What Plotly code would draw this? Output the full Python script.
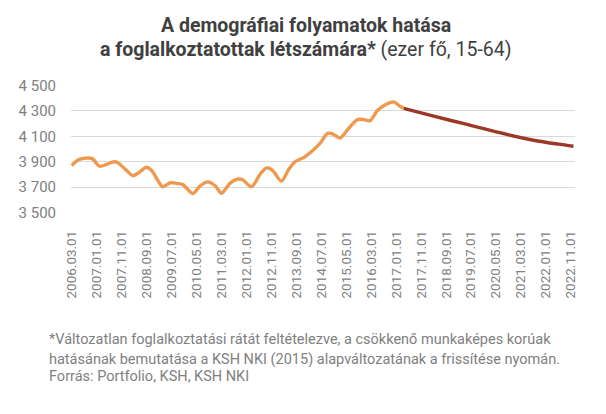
import plotly.graph_objects as go

# tényadatok (ezer fő) - leolvasva
actual_dates = [
    "2006-03-01", "2006-06-01", "2006-11-01", "2007-02-01", "2007-05-01", "2007-08-01",
    "2007-09-15", "2008-01-01", "2008-03-15", "2008-05-15", "2008-09-01", "2008-11-01",
    "2009-01-15", "2009-03-15", "2009-06-15", "2009-09-01", "2009-11-15", "2010-03-15",
    "2010-06-15", "2010-09-15", "2010-12-15", "2011-03-01", "2011-06-15", "2011-09-15",
    "2011-11-15", "2012-03-01", "2012-06-15", "2012-09-01", "2012-11-15", "2013-03-01",
    "2013-06-01", "2013-08-15", "2013-12-01", "2014-03-15", "2014-06-15", "2014-09-15",
    "2014-11-15", "2015-02-15", "2015-06-01", "2015-09-15", "2015-12-01", "2016-02-15",
    "2016-05-15", "2016-08-15", "2016-12-01", "2017-02-15", "2017-04-01",
]
actual_values = [
    3870, 3918, 3926, 3865, 3880, 3900,
    3892, 3830, 3790, 3809, 3856, 3830,
    3751, 3703, 3735, 3729, 3720, 3650,
    3711, 3742, 3711, 3652, 3732, 3764,
    3758, 3703, 3803, 3852, 3830, 3748,
    3843, 3900, 3934, 3986, 4044, 4123,
    4118, 4086, 4163, 4231, 4231, 4223,
    4302, 4346, 4370, 4336, 4320,
]

# előrejelzés
forecast_dates = ["2017-04-01", "2018-04-01", "2019-05-01", "2020-06-01",
                  "2021-08-01", "2022-06-01", "2022-12-01"]
forecast_values = [4320, 4258, 4195, 4130, 4069, 4038, 4022]

y_ticks = [3500, 3700, 3900, 4100, 4300, 4500]
y_labels = ["3 500", "3 700", "3 900", "4 100", "4 300", "4 500"]

title_lines = ["<b>A demográfiai folyamatok hatása</b>",
               "<b>a foglalkoztatottak létszámára*</b> (ezer fő, 15-64)"]
note_lines = ["*Változatlan foglalkoztatási rátát feltételezve, a csökkenő munkaképes korúak",
              "hatásának bemutatása a KSH NKI (2015) alapváltozatának a frissítése nyomán.",
              "Forrás: Portfolio, KSH, KSH NKI"]

fig = go.Figure()
fig.add_trace(go.Scatter(
    x=actual_dates, y=actual_values, mode="lines",
    line=dict(color="#EE994E", width=3.4, shape="spline", smoothing=0.8),
    hoverinfo="skip", showlegend=False,
))
fig.add_trace(go.Scatter(
    x=forecast_dates, y=forecast_values, mode="lines",
    line=dict(color="#9C3826", width=3.4, shape="spline", smoothing=0.8),
    hoverinfo="skip", showlegend=False,
))

annotations = []
for text, yy in zip(title_lines, [1.465, 1.277]):
    annotations.append(dict(
        text=text, xref="paper", yref="paper", x=0.466, y=yy,
        xanchor="center", yanchor="middle", showarrow=False,
        font=dict(size=19.5, color="#404040", family="Roboto")))
for text, yy in zip(note_lines, [-0.985, -1.145, -1.28]):
    annotations.append(dict(
        text=text, xref="paper", yref="paper", x=-0.0486, y=yy,
        xanchor="left", yanchor="middle", showarrow=False,
        font=dict(size=14.5, color="#808080", family="Roboto")))

fig.update_layout(
    width=606, height=414,
    # the page body adds an 8px offset, so the margins are shifted to compensate
    margin=dict(l=63, r=39, t=77, b=209),
    paper_bgcolor="white", plot_bgcolor="white",
    font=dict(family="Roboto", color="#808080"),
    xaxis=dict(
        type="date", range=["2006-02-20", "2022-12-20"],
        tick0="2006-03-01", dtick="M10", tickformat="%Y.%m.%d",
        tickangle=-90, tickfont=dict(size=13.5, color="#808080"),
        showgrid=False, showline=False, zeroline=False, ticks="",
        ticklabelstandoff=14, automargin=False,
    ),
    yaxis=dict(
        range=[3497, 4503], tickvals=y_ticks, ticktext=y_labels,
        tickfont=dict(size=15, color="#808080"),
        showgrid=True, gridcolor="#D9D9D9", gridwidth=1,
        zeroline=False, showline=False, ticks="", ticklabelstandoff=14,
        automargin=False,
    ),
    annotations=annotations,
)

fig.write_html("out.html")
